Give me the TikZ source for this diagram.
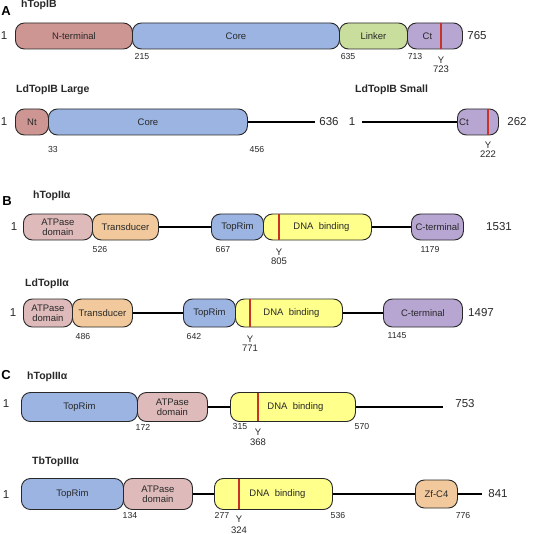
\documentclass[tikz,border=0pt]{standalone}
\usepackage{fontspec}
\setmainfont{Liberation Sans}
\definecolor{cNterm}{RGB}{205,150,147}
\definecolor{cCore}{RGB}{155,180,226}
\definecolor{cLinker}{RGB}{201,221,156}
\definecolor{cCt}{RGB}{183,165,210}
\definecolor{cATP}{RGB}{222,186,186}
\definecolor{cTrans}{RGB}{241,201,156}
\definecolor{cDNA}{RGB}{255,255,140}
\definecolor{cRed}{RGB}{200,50,40}
\definecolor{cInk}{RGB}{40,40,40}
\tikzset{
  dom/.style={draw=cInk, line width=0.9pt, rounded corners=9pt, font=\fontsize{9.5}{10}\selectfont,
    align=center, inner sep=0pt, anchor=west, text=cInk},
  conn/.style={line width=1.4pt, black},
  posn/.style={font=\fontsize{8.7}{9}\selectfont, text=cInk, inner sep=0pt},
  endnum/.style={font=\fontsize{11.5}{12}\selectfont, text=cInk, inner sep=0pt},
  ttl/.style={font=\bfseries\fontsize{10.5}{12}\selectfont, anchor=west, inner sep=0pt, text=cInk},
  panel/.style={font=\bfseries\fontsize{13}{14}\selectfont, inner sep=0pt, text=black},
  tyr/.style={font=\fontsize{9.5}{10}\selectfont, text=cInk, inner sep=0pt},
  redbar/.style={cRed, line width=1.8pt, shorten <=0.6pt, shorten >=0.6pt}
}
\newcommand\dbox[7]{\node[dom, fill=#5, minimum width={(#3-#2)*1pt}, minimum height=#6] (#1) at (#2,#4) {#7};}
\begin{document}
\begin{tikzpicture}[x=1pt,y=-1pt]
\useasboundingbox[fill=white] (0,0) rectangle (533,534);

% ---------------- A ----------------
\node[panel] (pA) at (6,11) {A};
\node[ttl] (tA1) at (21,5) {hTopIB};
\node[endnum] (a1s) at (4,36) {1};
\dbox{a1n}{15}{132}{36}{cNterm}{26pt}{N-terminal}
\dbox{a1c}{132}{339}{36}{cCore}{26pt}{Core}
\dbox{a1l}{339}{407}{36}{cLinker}{26pt}{Linker}
\dbox{a1t}{407}{462}{36}{cCt}{26pt}{\hspace*{-15pt}Ct}
\draw[redbar] (441,0 |- a1t.north) -- (441,0 |- a1t.south);
\node[endnum] (a1e) at (477,36) {765};
\node[posn] (a1p1) at (142,57) {215};
\node[posn] (a1p2) at (348,57) {635};
\node[posn] (a1p3) at (415,57) {713};
\node[tyr] (a1y) at (441,60) {Y};
\node[tyr] (a1yn) at (441,69) {723};

\node[ttl] (tA2) at (16,90) {LdTopIB Large};
\node[ttl] (tA3) at (355,90) {LdTopIB Small};
\node[endnum] (a2s) at (4,122) {1};
\dbox{a2n}{15}{48}{122}{cNterm}{26pt}{Nt}
\dbox{a2c}{48}{247}{122}{cCore}{26pt}{Core}
\coordinate (a2end) at (315,122);
\draw[conn] (a2c.east) -- (a2end);
\node[endnum] (a2e) at (329,122) {636};
\node[posn] (a2p1) at (53,150) {33};
\node[posn] (a2p2) at (257,150) {456};

\node[endnum] (a3s) at (352,122) {1};
\coordinate (a3start) at (362,122);
\dbox{a3t}{457}{498}{122}{cCt}{26pt}{\hspace*{-28pt}Ct}
\draw[conn] (a3start) -- (a3t.west);
\draw[redbar] (488,0 |- a3t.north) -- (488,0 |- a3t.south);
\node[endnum] (a3e) at (517,122) {262};
\node[tyr] (a3y) at (488,145) {Y};
\node[tyr] (a3yn) at (488,154) {222};

% ---------------- B ----------------
\node[panel] (pB) at (7,201) {B};
\node[ttl] (tB1) at (33,196) {hTopII\char"03B1};
\node[endnum] (b1s) at (14,227) {1};
\dbox{b1a}{23}{92}{227}{cATP}{26pt}{ATPase\\domain}
\dbox{b1t}{92}{158}{227}{cTrans}{26pt}{Transducer}
\dbox{b1r}{211}{263}{227}{cCore}{26pt}{TopRim}
\dbox{b1d}{263}{371}{227}{cDNA}{26pt}{\hspace*{8pt}DNA\ \ binding}
\dbox{b1c}{411}{463}{227}{cCt}{26pt}{C-terminal}
\draw[conn] (b1t.east) -- (b1r.west);
\draw[conn] (b1d.east) -- (b1c.west);
\draw[redbar] (279,0 |- b1d.north) -- (279,0 |- b1d.south);
\node[endnum] (b1e) at (499,227) {1531};
\node[posn] (b1p1) at (100,250) {526};
\node[posn] (b1p2) at (223,250) {667};
\node[tyr] (b1y) at (279,252) {Y};
\node[tyr] (b1yn) at (279,261) {805};
\node[posn] (b1p3) at (430,250) {1179};

\node[ttl] (tB2) at (25,284) {LdTopII\char"03B1};
\node[endnum] (b2s) at (13,313) {1};
\dbox{b2a}{23}{72}{313}{cATP}{28pt}{ATPase\\domain}
\dbox{b2t}{72}{132}{313}{cTrans}{28pt}{Transducer}
\dbox{b2r}{183}{235}{313}{cCore}{28pt}{TopRim}
\dbox{b2d}{235}{342}{313}{cDNA}{28pt}{\hspace*{5pt}DNA\ \ binding}
\dbox{b2c}{383}{462}{313}{cCt}{28pt}{C-terminal}
\draw[conn] (b2t.east) -- (b2r.west);
\draw[conn] (b2d.east) -- (b2c.west);
\draw[redbar] (250,0 |- b2d.north) -- (250,0 |- b2d.south);
\node[endnum] (b2e) at (481,313) {1497};
\node[posn] (b2p1) at (83,337) {486};
\node[posn] (b2p2) at (194,337) {642};
\node[tyr] (b2y) at (250,339) {Y};
\node[tyr] (b2yn) at (250,348) {771};
\node[posn] (b2p3) at (397,336) {1145};

% ---------------- C ----------------
\node[panel] (pC) at (6,375) {C};
\node[ttl] (tC1) at (27,377) {hTopIII\char"03B1};
\node[endnum] (c1s) at (6,404) {1};
\dbox{c1r}{21}{137}{407}{cCore}{29pt}{TopRim}
\dbox{c1a}{137}{207}{407}{cATP}{29pt}{ATPase\\domain}
\dbox{c1d}{230}{355}{407}{cDNA}{29pt}{\hspace*{5pt}DNA\ \ binding}
\draw[conn] (c1a.east) -- (c1d.west);
\coordinate (c1end) at (443,407);
\draw[conn] (c1d.east) -- (c1end);
\draw[redbar] (258,0 |- c1d.north) -- (258,0 |- c1d.south);
\node[endnum] (c1e) at (465,404) {753};
\node[posn] (c1p1) at (143,427) {172};
\node[posn] (c1p2) at (240,427) {315};
\node[tyr] (c1y) at (258,432) {Y};
\node[tyr] (c1yn) at (258,442) {368};
\node[posn] (c1p3) at (362,427) {570};

\node[ttl] (tC2) at (32,462) {TbTopIII\char"03B1};
\node[endnum] (c2s) at (6,495) {1};
\dbox{c2r}{21}{123}{494}{cCore}{31pt}{TopRim}
\dbox{c2a}{123}{192}{494}{cATP}{31pt}{ATPase\\domain}
\dbox{c2d}{214}{332}{494}{cDNA}{31pt}{\hspace*{8pt}DNA\ \ binding}
\dbox{c2z}{415}{457}{494}{cTrans}{28pt}{Zf-C4}
\draw[conn] (c2a.east) -- (c2d.west);
\draw[conn] (c2d.east) -- (c2z.west);
\coordinate (c2end) at (482,494);
\draw[conn] (c2z.east) -- (c2end);
\draw[redbar] (239,0 |- c2d.north) -- (239,0 |- c2d.south);
\node[endnum] (c2e) at (498,494) {841};
\node[posn] (c2p1) at (130,515) {134};
\node[posn] (c2p2) at (222,515) {277};
\node[tyr] (c2y) at (239,519) {Y};
\node[tyr] (c2yn) at (239,530) {324};
\node[posn] (c2p3) at (338,515) {536};
\node[posn] (c2p4) at (463,515) {776};
\end{tikzpicture}
\end{document}
